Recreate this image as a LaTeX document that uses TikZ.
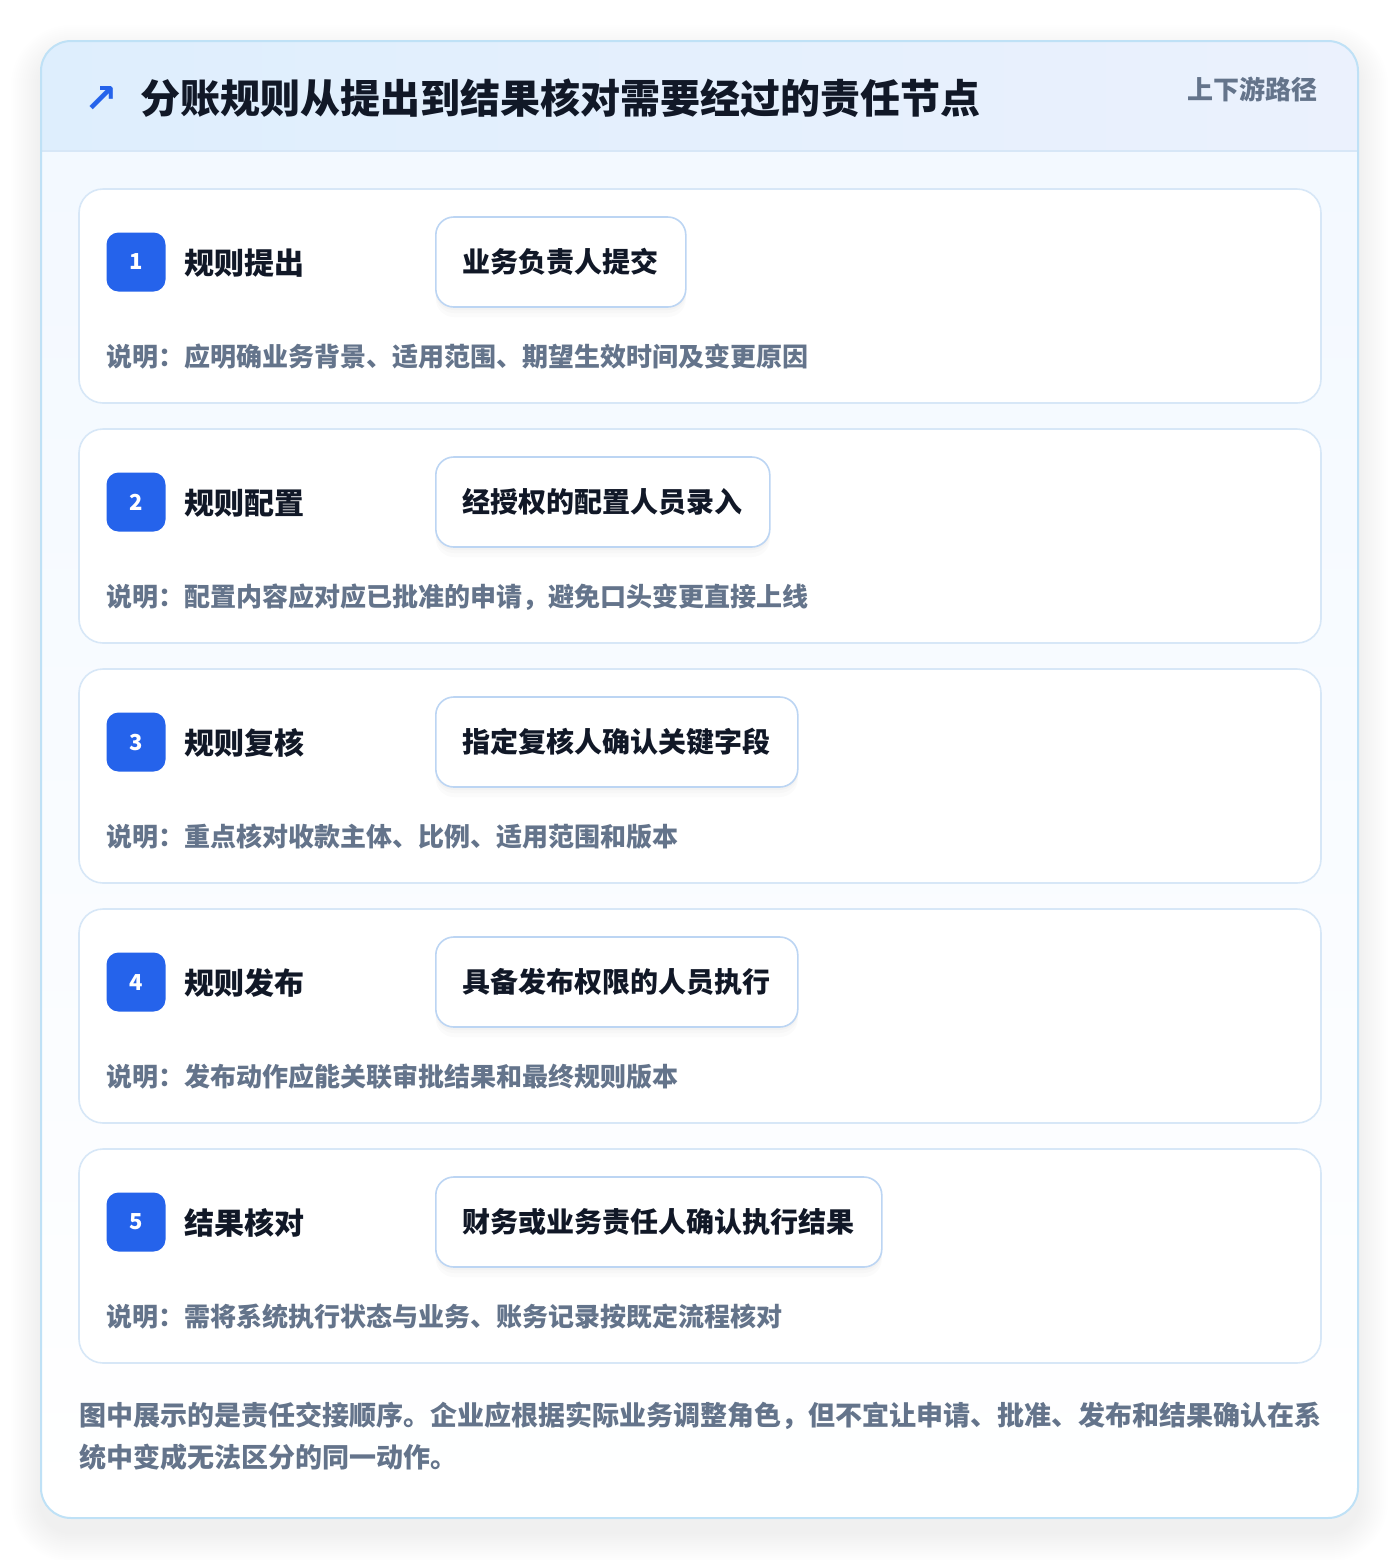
\documentclass[tikz,border=0pt]{standalone}
\usepackage{fontspec}
\setmainfont{Noto Sans CJK SC}
\newfontfamily\symfont{DejaVu Sans}

\definecolor{ink}{HTML}{111827}
\definecolor{muted}{HTML}{64748B}
\definecolor{accent}{HTML}{2563EB}
\definecolor{cardline}{HTML}{BFE1F6}
\definecolor{stepline}{HTML}{D7E7F7}
\definecolor{roleline}{HTML}{BCD5F3}
\definecolor{headL}{HTML}{DEEEFD}
\definecolor{headR}{HTML}{EBF1FD}
\definecolor{bodytop}{HTML}{F2F8FF}

\begin{document}
\begin{tikzpicture}[x=0.5pt, y=-0.5pt,
    stepcard/.style = {draw=stepline, line width=0.8pt, fill=white, rounded corners=12pt},
    badge/.style = {fill=accent, text=white, rounded corners=6pt, minimum size=29.5pt,
      inner sep=0pt, font=\bfseries\fontsize{11pt}{13pt}\selectfont},
    steptitle/.style = {anchor=west, inner sep=0pt, text=ink,
      font=\bfseries\fontsize{15pt}{18pt}\selectfont},
    rolebox/.style = {anchor=west, draw=roleline, line width=0.8pt, fill=white,
      rounded corners=9pt, inner xsep=13.5pt, minimum height=45pt, text=ink,
      font=\bfseries\fontsize{14pt}{17pt}\selectfont,
      preaction={fill=black, fill opacity=0.015, draw=none, transform canvas={yshift=-5pt}},
      preaction={fill=black, fill opacity=0.015, draw=none, transform canvas={yshift=-3pt}},
      preaction={fill=black, fill opacity=0.02, draw=none, transform canvas={yshift=-1.5pt}}},
    note/.style = {anchor=west, inner sep=0pt, text=muted,
      font=\bfseries\fontsize{13pt}{16pt}\selectfont}]

    \useasboundingbox (0,0) rectangle (1400,1560);

    % soft shadow of the outer card
    \foreach \s in {2,4,...,30}
        \fill[black, fill opacity=0.005, rounded corners=15pt+\s*0.5pt]
          (41-\s,41-\s+14) rectangle (1358+\s,1518+\s+14);

    % outer card with header band
    \fill[top color=bodytop, bottom color=white, rounded corners=15pt]
      (41,41) rectangle (1358,1518);
    \begin{scope}
        \clip[rounded corners=15pt] (41,41) rectangle (1358,1518);
        \fill[left color=headL, right color=headR] (41,41) rectangle (1358,151);
    \end{scope}
    \draw[stepline, line width=0.8pt] (41,151) -- (1358,151);
    \draw[cardline, line width=1pt, rounded corners=15pt] (41,41) rectangle (1358,1518);

    \node[inner sep=0pt, text=accent, font=\symfont\bfseries\fontsize{20pt}{22pt}\selectfont] (arrow) at (101,99) {↗};
    \node[anchor=west, inner sep=0pt, text=ink, font=\bfseries\fontsize{20pt}{24pt}\selectfont]
      (title) at (140,98) {分账规则从提出到结果核对需要经过的责任节点};
    \node[anchor=east, inner sep=0pt, text=muted, font=\bfseries\fontsize{13pt}{16pt}\selectfont]
      (tag) at (1318,89) {上下游路径};

    % step 1
    \draw[stepcard] (79,189) rectangle (1321,403);
    \node[badge] (b1) at (136,262) {1};
    \node[steptitle] (t1) at (184,263) {规则提出};
    \node[rolebox] (r1) at (435,262) {业务负责人提交};
    \node[note] (d1) at (106,357) {说明：应明确业务背景、适用范围、期望生效时间及变更原因};

    % step 2
    \draw[stepcard] (79,429) rectangle (1321,643);
    \node[badge] (b2) at (136,502) {2};
    \node[steptitle] (t2) at (184,503) {规则配置};
    \node[rolebox] (r2) at (435,502) {经授权的配置人员录入};
    \node[note] (d2) at (106,597) {说明：配置内容应对应已批准的申请，避免口头变更直接上线};

    % step 3
    \draw[stepcard] (79,669) rectangle (1321,883);
    \node[badge] (b3) at (136,742) {3};
    \node[steptitle] (t3) at (184,743) {规则复核};
    \node[rolebox] (r3) at (435,742) {指定复核人确认关键字段};
    \node[note] (d3) at (106,837) {说明：重点核对收款主体、比例、适用范围和版本};

    % step 4
    \draw[stepcard] (79,909) rectangle (1321,1123);
    \node[badge] (b4) at (136,982) {4};
    \node[steptitle] (t4) at (184,983) {规则发布};
    \node[rolebox] (r4) at (435,982) {具备发布权限的人员执行};
    \node[note] (d4) at (106,1077) {说明：发布动作应能关联审批结果和最终规则版本};

    % step 5
    \draw[stepcard] (79,1149) rectangle (1321,1363);
    \node[badge] (b5) at (136,1222) {5};
    \node[steptitle] (t5) at (184,1223) {结果核对};
    \node[rolebox] (r5) at (435,1222) {财务或业务责任人确认执行结果};
    \node[note] (d5) at (106,1317) {说明：需将系统执行状态与业务、账务记录按既定流程核对};

    % footnote
    \node[anchor=west, inner sep=0pt, text=muted, align=left,
      font=\bfseries\fontsize{13.5pt}{21pt}\selectfont] (foot) at (79,1436)
      {图中展示的是责任交接顺序。企业应根据实际业务调整角色，但不宜让申请、批准、发布和结果确认在系\\
       统中变成无法区分的同一动作。};
\end{tikzpicture}
\end{document}
